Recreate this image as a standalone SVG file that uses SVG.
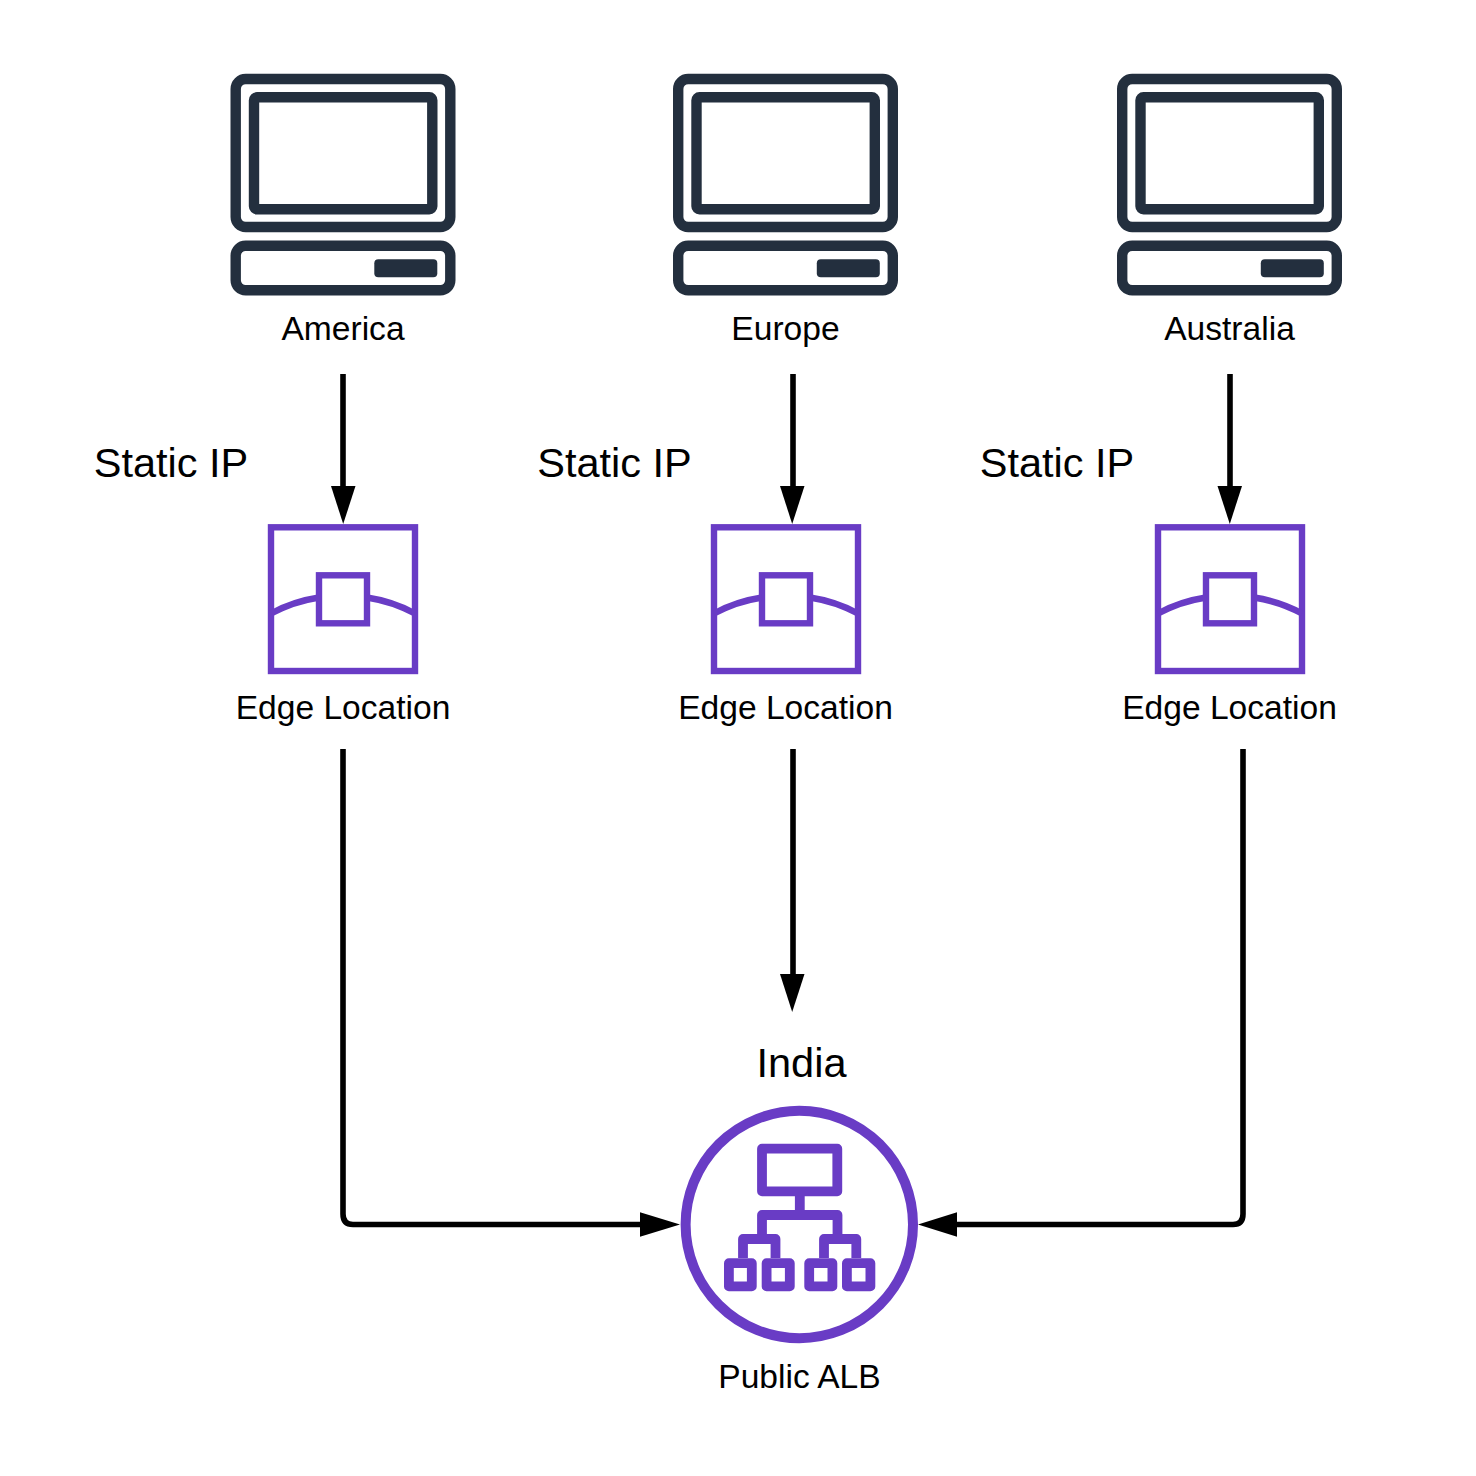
<svg xmlns="http://www.w3.org/2000/svg" xmlns:xlink="http://www.w3.org/1999/xlink" width="1476" height="1476" viewBox="0 0 1476 1476">
<style>
text{font-family:"Liberation Sans",Arial,sans-serif;fill:#000;text-anchor:middle}
.lbl{font-size:33.6px}
.big{font-size:41.5px}
.pc{fill:none;stroke:#232f3e;stroke-width:10.4;stroke-linejoin:round}
.pcf{fill:#232f3e}
.edge{fill:none;stroke:#693cc5;stroke-width:6.4}
.alb{fill:none;stroke:#693cc5;stroke-width:9.8;stroke-linejoin:round}
.conn{fill:none;stroke:#000;stroke-width:5.6}
.head{fill:#000}
</style>
<defs>
<g id="computer">
<rect class="pc" x="235.7" y="79" width="214.6" height="148" rx="10"/>
<rect class="pc" x="254" y="97.3" width="178.3" height="112" rx="3"/>
<rect class="pc" x="235.7" y="245.7" width="214.6" height="44.6" rx="10"/>
<rect class="pcf" x="374.3" y="259.3" width="63" height="18" rx="4"/>
</g>
<g id="edgeicon">
<rect class="edge" x="271" y="527.3" width="144" height="143.7"/>
<rect class="edge" x="319" y="575.3" width="48" height="48"/>
<path class="edge" d="M271 613.500Q293 601.500 319 597.500M367 597.500Q393 601.500 415 613.500"/>
</g>
</defs>
<rect width="1476" height="1476" fill="#fff"/>
<g id="connectors">
<path class="conn" d="M343 374V490"/><path class="head" d="M331 486H355.500L343.200 524Z"/>
<path class="conn" d="M793 374V490"/><path class="head" d="M780 486H804.500L792.200 524Z"/>
<path class="conn" d="M1230 374V490"/><path class="head" d="M1217.500 486H1242L1229.800 524Z"/>
<path class="conn" d="M343 749V1214Q343 1224.500 353 1224.500H645"/><path class="head" d="M640 1212.300V1236.700L680 1224.500Z"/>
<path class="conn" d="M793 749V978"/><path class="head" d="M780 974H804.500L792.200 1012Z"/>
<path class="conn" d="M1243 749V1214Q1243 1224.500 1233 1224.500H952"/><path class="head" d="M957 1212.300V1236.700L918 1224.500Z"/>
</g>
<g id="node-america"><use href="#computer"/><text class="lbl" x="343" y="339.500">America</text></g>
<g id="node-europe"><use href="#computer" x="442.500"/><text class="lbl" x="785.500" y="339.500">Europe</text></g>
<g id="node-australia"><use href="#computer" x="886.500"/><text class="lbl" x="1229.500" y="339.500">Australia</text></g>
<g id="label-static-1"><text class="big" x="171" y="476.500">Static IP</text></g>
<g id="label-static-2"><text class="big" x="614.500" y="476.500">Static IP</text></g>
<g id="label-static-3"><text class="big" x="1057" y="476.500">Static IP</text></g>
<g id="node-edge-1"><use href="#edgeicon"/><text class="lbl" x="343" y="718.500">Edge Location</text></g>
<g id="node-edge-2"><use href="#edgeicon" x="443"/><text class="lbl" x="785.500" y="718.500">Edge Location</text></g>
<g id="node-edge-3"><use href="#edgeicon" x="887"/><text class="lbl" x="1229.500" y="718.500">Edge Location</text></g>
<g id="label-india"><text class="big" x="801.500" y="1076.500">India</text></g>
<g id="node-alb">
<circle cx="799.300" cy="1224.500" r="113.700" fill="none" stroke="#693cc5" stroke-width="10"/>
<rect class="alb" x="762" y="1148.700" width="75.300" height="42.600"/>
<path class="alb" d="M799.800 1196V1215M762 1238V1215H837.500V1238M743 1258V1239H775.500V1258M824 1258V1239H856.300V1258"/>
<rect class="alb" x="728.900" y="1263.200" width="22.900" height="23.200"/>
<rect class="alb" x="766.600" y="1263.200" width="23.200" height="23.200"/>
<rect class="alb" x="809.200" y="1263.200" width="23.200" height="23.200"/>
<rect class="alb" x="846.900" y="1263.200" width="23.500" height="23.200"/>
<text class="lbl" x="799.500" y="1387.500">Public ALB</text>
</g>
</svg>
